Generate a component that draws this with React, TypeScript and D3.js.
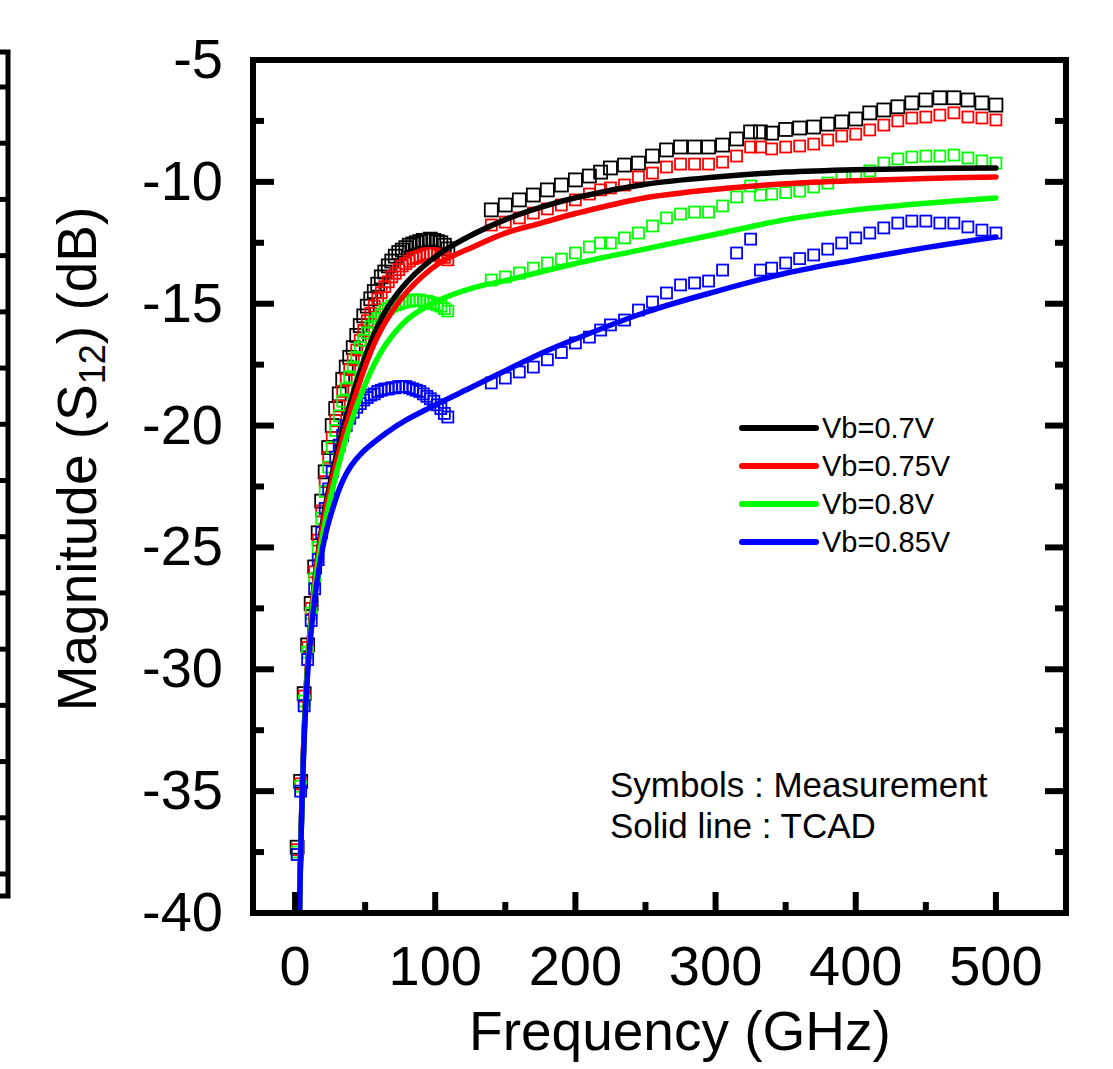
import React from 'react';
import * as d3 from 'd3';

const W = 1113;
const H = 1069;
const FRAME = { left: 253, top: 60, right: 1066, bottom: 913 };
const FONT = "'Liberation Sans', Arial, Helvetica, sans-serif";

// axis definitions
const xDomain = [-30, 550];
const yDomain = [-40, -5];
const xMajor = [0, 100, 200, 300, 400, 500];
const xMinor = [50, 150, 250, 350, 450];
const yLabels = [-5, -10, -15, -20, -25, -30, -35, -40];
const yMajorInner = [-10, -15, -20, -25, -30, -35];
const yMinor = [-7.5, -12.5, -17.5, -22.5, -27.5, -32.5, -37.5];

// series
const seriesNames = ['Vb=0.7V', 'Vb=0.75V', 'Vb=0.8V', 'Vb=0.85V'];
const seriesColors = ['#000000', '#ff0000', '#00ff00', '#0000ff'];

// TCAD (solid lines)
const tcadFreq = [3, 4, 5, 6, 7, 8.5, 10, 13, 17, 22, 28, 33, 40, 48, 56, 65, 80, 103, 127, 150, 175, 200, 250, 300, 350, 400, 450, 500];
const tcadBlack = [-40.5, -37.5, -35.2, -33.4, -31.9, -30.2, -28.9, -26.9, -25.0, -23.2, -21.6, -20.4, -18.95, -17.5, -16.3, -15.25, -14.1, -12.95, -12.15, -11.55, -11.05, -10.65, -10.1, -9.8, -9.6, -9.5, -9.45, -9.43];
const tcadRed = [-40.5, -37.5, -35.2, -33.4, -31.9, -30.2, -28.9, -26.95, -25.1, -23.4, -21.85, -20.7, -19.3, -17.9, -16.7, -15.7, -14.5, -13.33, -12.67, -12.1, -11.7, -11.3, -10.65, -10.3, -10.08, -9.95, -9.86, -9.8];
const tcadGreen = [-40.5, -37.5, -35.3, -33.5, -32.0, -30.3, -29.1, -27.2, -25.4, -23.8, -22.3, -21.2, -19.85, -18.6, -17.55, -16.65, -15.65, -14.85, -14.35, -14.05, -13.7, -13.35, -12.75, -12.15, -11.55, -11.15, -10.88, -10.66];
const tcadBlue = [-40.5, -37.6, -35.4, -33.6, -32.2, -30.6, -29.4, -27.6, -25.9, -24.4, -23.2, -22.4, -21.65, -21.1, -20.7, -20.3, -19.75, -19.07, -18.4, -17.75, -17.05, -16.45, -15.35, -14.5, -13.75, -13.2, -12.7, -12.26];

// Measurement, low band
const lfFreq = [1.5, 4, 6.5, 9, 11.5, 14, 16.5, 19, 21.5, 24, 26.5, 29, 31.5, 34, 36.5, 39, 41.5, 44, 46.5, 49, 51.5, 54, 56.5, 59, 61.5, 64, 66.5, 69, 71.5, 74, 76.5, 79, 81.5, 84, 86.5, 89, 91.5, 94, 96.5, 99, 101.5, 104, 106.5, 109];
const lfBlack = [-37.3, -34.6, -31.0, -29.0, -27.3, -25.8, -24.4, -23.1, -21.9, -20.9, -20.0, -19.3, -18.7, -18.1, -17.6, -17.2, -16.8, -16.3, -15.9, -15.5, -15.1, -14.8, -14.5, -14.2, -13.9, -13.7, -13.45, -13.25, -13.05, -12.9, -12.8, -12.7, -12.6, -12.55, -12.5, -12.45, -12.4, -12.4, -12.35, -12.4, -12.45, -12.5, -12.6, -12.75];
const lfRed = [-37.4, -34.7, -31.1, -29.1, -27.5, -26.0, -24.7, -23.5, -22.3, -21.3, -20.5, -19.8, -19.2, -18.6, -18.1, -17.7, -17.3, -16.9, -16.5, -16.1, -15.7, -15.4, -15.1, -14.8, -14.55, -14.3, -14.1, -13.9, -13.75, -13.6, -13.45, -13.35, -13.25, -13.15, -13.1, -13.05, -13.0, -12.95, -12.95, -12.95, -13.0, -13.05, -13.1, -13.2];
const lfGreen = [-37.5, -34.8, -31.3, -29.3, -27.7, -26.3, -25.0, -23.8, -22.7, -21.7, -20.9, -20.2, -19.6, -19.0, -18.5, -18.0, -17.6, -17.2, -16.8, -16.5, -16.2, -15.95, -15.75, -15.6, -15.45, -15.3, -15.2, -15.1, -15.05, -15.0, -14.95, -14.9, -14.9, -14.85, -14.85, -14.85, -14.9, -14.9, -14.95, -15.0, -15.05, -15.1, -15.2, -15.3];
const lfBlue = [-37.6, -35.0, -31.5, -29.6, -28.0, -26.7, -25.5, -24.4, -23.4, -22.6, -21.9, -21.3, -20.8, -20.4, -20.0, -19.7, -19.45, -19.25, -19.1, -18.95, -18.85, -18.75, -18.7, -18.6, -18.55, -18.5, -18.5, -18.45, -18.45, -18.4, -18.4, -18.4, -18.45, -18.5, -18.55, -18.6, -18.7, -18.8, -18.9, -19.0, -19.15, -19.3, -19.5, -19.65];

// Measurement, high bands
const hfFreq = [140, 150, 160, 170, 180, 190, 200, 210, 218, 225, 235, 245, 255, 265, 275, 285, 295, 305, 315, 325, 332, 340, 350, 360, 370, 380, 390, 400, 410, 420, 430, 440, 450, 460, 470, 480, 490, 500];
const hfBlack = [-11.15, -10.95, -10.74, -10.54, -10.33, -10.13, -9.92, -9.76, -9.6, -9.43, -9.31, -9.23, -8.94, -8.69, -8.57, -8.57, -8.57, -8.49, -8.24, -7.95, -7.95, -8.0, -7.85, -7.79, -7.75, -7.63, -7.54, -7.42, -7.17, -7.05, -6.92, -6.76, -6.64, -6.55, -6.55, -6.64, -6.76, -6.85];
const hfRed = [-11.77, -11.65, -11.48, -11.28, -11.11, -10.95, -10.74, -10.5, -10.33, -10.25, -10.13, -9.8, -9.64, -9.39, -9.27, -9.27, -9.27, -9.19, -8.94, -8.57, -8.57, -8.65, -8.57, -8.53, -8.45, -8.28, -8.12, -8.04, -7.87, -7.67, -7.5, -7.38, -7.34, -7.26, -7.17, -7.34, -7.38, -7.46];
const hfGreen = [-14.03, -13.9, -13.74, -13.54, -13.33, -13.17, -12.92, -12.67, -12.51, -12.51, -12.3, -12.1, -11.81, -11.48, -11.32, -11.24, -11.24, -10.99, -10.62, -10.17, -10.54, -10.5, -10.44, -10.38, -10.21, -10.05, -9.8, -9.68, -9.55, -9.23, -9.06, -8.98, -8.94, -8.94, -8.9, -9.02, -9.14, -9.23];
const hfBlue = [-18.25, -18.05, -17.8, -17.6, -17.3, -17.0, -16.61, -16.37, -16.08, -15.87, -15.67, -15.26, -14.93, -14.56, -14.23, -14.15, -14.07, -13.62, -12.92, -12.35, -13.62, -13.54, -13.33, -13.15, -13.0, -12.76, -12.51, -12.3, -12.1, -11.89, -11.69, -11.61, -11.61, -11.69, -11.69, -11.85, -11.98, -12.1];

const tcadSeries = [tcadBlack, tcadRed, tcadGreen, tcadBlue];
const lfSeries = [lfBlack, lfRed, lfGreen, lfBlue];
const hfSeries = [hfBlack, hfRed, hfGreen, hfBlue];
const symbolSizes = [13, 11, 11, 11];

// neighbouring panel (cut off at the left edge)
const neighbourTickCount = 15;

export default function App() {
  const x = d3.scaleLinear().domain(xDomain).range([FRAME.left, FRAME.right]);
  const y = d3.scaleLinear().domain(yDomain).range([FRAME.bottom, FRAME.top]);
  const line = d3
    .line<[number, number]>()
    .x((d) => x(d[0]))
    .y((d) => y(d[1]))
    .curve(d3.curveCatmullRom.alpha(0.5));

  const neighbour = d3.scaleLinear().domain([0, neighbourTickCount - 1]).range([87, 874]);
  const neighbourTicks = d3.range(neighbourTickCount);

  const legendY = d3.scaleLinear().domain([0, 3]).range([428, 542]);

  return (
    <svg
      width={W}
      height={H}
      viewBox={`0 0 ${W} ${H}`}
      style={{ position: 'absolute', left: 0, top: 0, background: '#fff' }}
      fontFamily={FONT}
    >
      <defs>
        <clipPath id="plotClip">
          <rect x={FRAME.left} y={FRAME.top} width={FRAME.right - FRAME.left} height={FRAME.bottom - FRAME.top} />
        </clipPath>
      </defs>
      <rect x={0} y={0} width={W} height={H} fill="#fff" />

      {/* neighbouring panel edge */}
      <path d={`M0,52 H8 V896 H0`} fill="none" stroke="#000" strokeWidth={5} />
      {neighbourTicks.map((i) => (
        <line key={`nt${i}`} x1={0} x2={8} y1={neighbour(i)} y2={neighbour(i)} stroke="#000" strokeWidth={5} />
      ))}

      {/* measurement symbols */}
      <g clipPath="url(#plotClip)">
        {lfSeries.map((vals, si) =>
          lfFreq.map((f, i) => (
            <rect
              key={`lf${si}-${i}`}
              x={x(f) - symbolSizes[si] / 2}
              y={y(vals[i]) - symbolSizes[si] / 2}
              width={symbolSizes[si]}
              height={symbolSizes[si]}
              fill="none"
              stroke={seriesColors[si]}
              strokeWidth={1.8}
            />
          ))
        )}
        {hfSeries.map((vals, si) =>
          hfFreq.map((f, i) => (
            <rect
              key={`hf${si}-${i}`}
              x={x(f) - symbolSizes[si] / 2}
              y={y(vals[i]) - symbolSizes[si] / 2}
              width={symbolSizes[si]}
              height={symbolSizes[si]}
              fill="none"
              stroke={seriesColors[si]}
              strokeWidth={1.8}
            />
          ))
        )}
        {/* TCAD lines */}
        {tcadSeries.map((vals, si) => (
          <path
            key={`tc${si}`}
            d={line(tcadFreq.map((f, i) => [f, vals[i]] as [number, number])) || ''}
            fill="none"
            stroke={seriesColors[si]}
            strokeWidth={5.5}
            strokeLinecap="round"
          />
        ))}
      </g>

      {/* frame */}
      <rect
        x={FRAME.left}
        y={FRAME.top}
        width={FRAME.right - FRAME.left}
        height={FRAME.bottom - FRAME.top}
        fill="none"
        stroke="#000"
        strokeWidth={6}
      />

      {/* x ticks (bottom, inward) */}
      {xMajor.map((v) => (
        <line key={`xM${v}`} x1={x(v)} x2={x(v)} y1={FRAME.bottom} y2={FRAME.bottom - 21} stroke="#000" strokeWidth={6} />
      ))}
      {xMinor.map((v) => (
        <line key={`xm${v}`} x1={x(v)} x2={x(v)} y1={FRAME.bottom} y2={FRAME.bottom - 11} stroke="#000" strokeWidth={6} />
      ))}
      {/* y ticks left & right */}
      {yMajorInner.map((v) => (
        <g key={`yM${v}`}>
          <line x1={FRAME.left} x2={FRAME.left + 21} y1={y(v)} y2={y(v)} stroke="#000" strokeWidth={6} />
          <line x1={FRAME.right} x2={FRAME.right - 21} y1={y(v)} y2={y(v)} stroke="#000" strokeWidth={6} />
        </g>
      ))}
      {yMinor.map((v) => (
        <g key={`ym${v}`}>
          <line x1={FRAME.left} x2={FRAME.left + 11} y1={y(v)} y2={y(v)} stroke="#000" strokeWidth={6} />
          <line x1={FRAME.right} x2={FRAME.right - 11} y1={y(v)} y2={y(v)} stroke="#000" strokeWidth={6} />
        </g>
      ))}

      {/* tick labels */}
      {yLabels.map((v) => (
        <text key={`yl${v}`} x={223} y={y(v) + 18} textAnchor="end" fontSize={56} fill="#000">
          {v}
        </text>
      ))}
      {xMajor.map((v) => (
        <text key={`xl${v}`} x={x(v)} y={985} textAnchor="middle" fontSize={56} fill="#000">
          {v}
        </text>
      ))}

      {/* axis titles */}
      <text x={680} y={1050} textAnchor="middle" fontSize={55} fill="#000">
        Frequency (GHz)
      </text>
      <text transform={`translate(96,459) rotate(-90)`} textAnchor="middle" fontSize={55} fill="#000">
        Magnitude (S
        <tspan fontSize={36} dy={9}>12</tspan>
        <tspan dy={-9}>) (dB)</tspan>
      </text>

      {/* legend */}
      {seriesNames.map((name, i) => (
        <g key={`lg${i}`}>
          <line x1={742} x2={816} y1={legendY(i)} y2={legendY(i)} stroke={seriesColors[i]} strokeWidth={6} strokeLinecap="round" />
          <text x={822} y={legendY(i) + 10} fontSize={29} fill="#000">
            {name}
          </text>
        </g>
      ))}

      {/* annotation */}
      <text x={610} y={797} fontSize={35} fill="#000">Symbols : Measurement</text>
      <text x={610} y={838} fontSize={35} fill="#000">Solid line : TCAD</text>
    </svg>
  );
}
